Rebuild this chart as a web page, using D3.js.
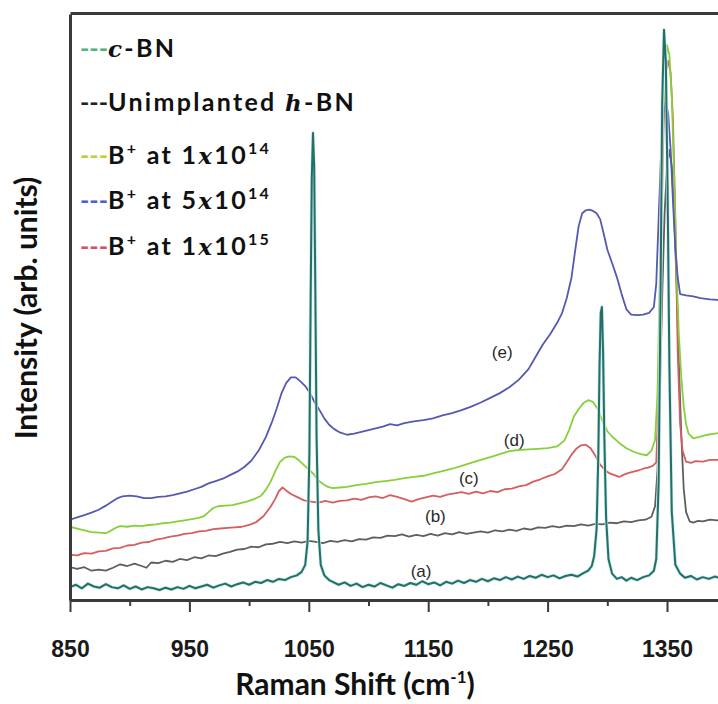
<!DOCTYPE html>
<html><head><meta charset="utf-8">
<script src="https://cdn.jsdelivr.net/npm/d3@7"></script>
<style>body{margin:0;background:#fff}</style>
</head><body><svg id="c" width="718" height="704"></svg>
<script>
const majorTicks=[850,950,1050,1150,1250,1350];
const minorTicks=[900,1000,1100,1200,1300,1400];
const xTitle="Raman Shift (cm";
const yTitle="Intensity (arb. units)";

// (a) c-BN
const seriesA=[[850,2.2],[855,2.6],[860,2.0],[865,2.8],[870,2.3],[875,2.1],[880,2.7],[885,2.2],[890,2.0],[895,2.5],[900,1.9],[905,2.3],[910,1.8],[915,2.2],[920,2.0],[925,1.7],[930,2.1],[935,1.8],[940,2.2],[945,1.9],[950,2.4],[955,2.0],[960,2.3],[965,2.6],[970,2.1],[975,2.5],[980,2.8],[985,2.3],[990,2.7],[995,3.0],[1000,2.6],[1005,3.1],[1010,2.9],[1015,3.4],[1020,3.1],[1025,3.6],[1030,3.4],[1035,3.9],[1040,4.2],[1044,4.8],[1047,6.0],[1049,10],[1050.5,25],[1051.5,50],[1052.5,72],[1053.5,79.7],[1054.5,74],[1055.5,52],[1056.5,28],[1058,12],[1060,6],[1063,4.2],[1067,3.4],[1070,3.1],[1075,2.6],[1080,3.0],[1085,2.4],[1090,2.8],[1095,2.2],[1100,2.6],[1105,2.3],[1110,2.9],[1115,2.5],[1120,2.1],[1125,2.7],[1130,2.4],[1135,2.9],[1140,2.6],[1145,3.2],[1150,2.7],[1155,3.0],[1160,2.5],[1165,3.1],[1170,2.8],[1175,3.3],[1180,2.9],[1185,3.4],[1190,3.1],[1195,3.6],[1200,3.2],[1205,3.7],[1210,3.4],[1215,3.9],[1220,3.5],[1225,4.0],[1230,3.6],[1235,4.1],[1240,3.8],[1245,4.3],[1250,3.9],[1255,4.2],[1260,3.7],[1265,4.1],[1270,4.3],[1275,4.0],[1280,4.6],[1284,5.0],[1287,5.8],[1289,7.5],[1291,12],[1292.5,25],[1293.5,40],[1294.5,49],[1295.5,50],[1296.5,42],[1297.5,28],[1299,14],[1301,7],[1304,4.5],[1308,3.6],[1312,3.9],[1316,3.3],[1320,3.8],[1325,3.4],[1330,3.9],[1335,4.2],[1339,5.0],[1341,7],[1343,20],[1344.5,50],[1346,85],[1347.5,97.3],[1349,92],[1350.5,70],[1352,40],[1354,15],[1357,6],[1361,4.5],[1365,3.8],[1370,4.1],[1375,3.5],[1380,3.9],[1385,3.6],[1390,4.0],[1395,3.7],[1400,3.9]];

// (b) Unimplanted h-BN
const seriesB=[[850,5.6],[856,5.3],[862,5.6],[868,5.0],[874,5.2],[880,5.0],[886,5.5],[892,6.1],[898,5.8],[904,6.2],[910,5.8],[914,5.5],[918,6.4],[924,6.3],[930,6.7],[936,6.5],[942,7.0],[948,6.8],[954,7.3],[960,7.1],[966,7.6],[972,7.5],[978,7.9],[984,8.2],[990,8.6],[996,8.7],[1002,9.1],[1008,9.0],[1014,9.5],[1020,9.6],[1026,9.9],[1032,9.7],[1038,10.0],[1044,9.8],[1050,10.1],[1056,9.9],[1062,9.7],[1068,10.1],[1074,9.9],[1080,10.2],[1086,10.0],[1092,10.4],[1098,10.3],[1104,10.7],[1110,10.6],[1116,11.0],[1122,10.9],[1128,11.2],[1134,10.8],[1140,11.1],[1146,10.9],[1152,11.3],[1158,11.0],[1164,11.4],[1170,11.2],[1176,11.6],[1182,11.3],[1188,11.5],[1194,11.7],[1200,11.5],[1206,11.9],[1212,11.7],[1218,12.0],[1224,11.8],[1230,12.2],[1236,12.0],[1242,12.4],[1248,12.3],[1254,12.6],[1260,12.4],[1266,12.7],[1272,12.6],[1278,12.9],[1284,12.7],[1290,13.0],[1296,12.9],[1302,13.2],[1308,13.1],[1314,13.4],[1320,13.3],[1326,13.6],[1332,13.7],[1337,14.2],[1340,16],[1342,22],[1344,35],[1346,52],[1348,66],[1350,74],[1352,76.8],[1354,74],[1356,66],[1358,54],[1360,40],[1362,28],[1364,19],[1366,15],[1369,13.4],[1372,13.2],[1376,13.5],[1380,13.4],[1386,13.7],[1392,13.6],[1400,13.8]];

// (c) B+ at 1x10^15
const seriesC=[[850,7.7],[856,7.6],[862,8.0],[868,7.9],[874,8.3],[880,8.4],[886,8.8],[892,8.9],[898,9.3],[904,9.4],[910,9.8],[916,9.9],[922,10.3],[928,10.5],[934,10.8],[940,11.0],[946,11.3],[952,11.4],[958,11.7],[964,11.8],[970,12.1],[976,12.2],[982,12.3],[988,12.4],[994,12.5],[1000,12.8],[1006,13.3],[1012,14.3],[1018,15.9],[1022,17.3],[1025,18.6],[1028,19.2],[1031,18.7],[1035,18.1],[1040,17.6],[1046,17.0],[1052,16.8],[1058,16.6],[1064,16.9],[1070,16.6],[1076,16.9],[1082,17.0],[1088,17.3],[1094,17.1],[1100,17.5],[1106,17.7],[1112,17.4],[1118,17.9],[1124,17.6],[1130,17.2],[1136,16.8],[1142,17.2],[1148,17.5],[1154,17.8],[1160,17.6],[1166,18.0],[1172,18.2],[1178,18.4],[1184,18.1],[1190,18.5],[1196,18.2],[1202,18.6],[1208,18.4],[1214,18.9],[1220,19.0],[1226,19.4],[1232,19.6],[1238,20.2],[1244,20.6],[1250,21.1],[1256,21.5],[1262,22.3],[1266,23.5],[1270,24.8],[1274,25.8],[1278,26.4],[1282,26.5],[1286,25.9],[1290,24.6],[1294,23.1],[1298,22.2],[1302,21.6],[1306,21.3],[1310,21.0],[1314,21.4],[1318,21.7],[1322,21.9],[1326,22.1],[1330,22.4],[1334,22.6],[1338,22.9],[1341,23.5],[1343,35],[1345,60],[1347,80],[1349,90],[1351,92],[1353,90],[1355,82],[1357,65],[1359,42],[1361,30],[1363,25.5],[1366,23.6],[1370,23.4],[1374,23.7],[1380,23.6],[1386,23.9],[1392,23.9],[1400,24.1]];

// (d) B+ at 1x10^14
const seriesD=[[850,12.5],[856,12.2],[862,11.9],[868,11.6],[874,11.5],[880,11.4],[884,11.8],[888,12.3],[892,12.6],[898,12.5],[904,12.7],[910,12.6],[916,12.8],[922,12.9],[928,13.1],[934,13.2],[940,13.4],[946,13.6],[952,13.8],[958,14.0],[962,14.3],[966,15.0],[970,15.7],[974,16.0],[980,16.1],[986,16.2],[992,16.5],[998,16.8],[1004,17.2],[1010,17.8],[1014,18.8],[1018,20.2],[1022,22.0],[1026,23.6],[1030,24.3],[1034,24.5],[1038,24.4],[1042,23.8],[1046,23.0],[1050,22.3],[1054,21.5],[1058,20.4],[1062,19.8],[1066,19.3],[1070,19.1],[1076,19.2],[1082,19.3],[1090,19.6],[1098,19.8],[1106,20.1],[1114,20.3],[1122,20.5],[1130,20.8],[1138,21.0],[1146,21.2],[1154,21.6],[1162,22.0],[1170,22.4],[1178,22.9],[1186,23.4],[1194,23.9],[1202,24.4],[1210,24.9],[1218,25.4],[1226,25.6],[1234,25.7],[1242,25.8],[1250,25.9],[1258,26.2],[1264,27.2],[1268,29.0],[1272,31.3],[1276,32.6],[1280,33.6],[1284,34.1],[1288,33.8],[1292,32.6],[1296,30.5],[1300,28.8],[1304,27.9],[1310,26.8],[1316,25.9],[1322,25.3],[1328,24.9],[1333,24.7],[1337,25.5],[1340,27.3],[1342,35],[1344,55],[1346,78],[1348,90],[1350,94.7],[1352,93],[1354,86],[1356,72],[1358,56],[1360,45],[1362,38],[1364,33],[1366,30],[1368,28.4],[1372,27.6],[1378,27.9],[1384,28.2],[1390,28.4],[1400,28.7]];

// (e) B+ at 5x10^14
const seriesE=[[850,13.7],[856,14.1],[862,14.5],[868,14.9],[874,15.4],[880,16.1],[886,16.9],[890,17.4],[894,17.7],[900,17.8],[906,17.7],[912,17.4],[918,17.4],[924,17.6],[930,17.7],[936,17.9],[942,18.2],[948,18.5],[954,18.9],[960,19.3],[966,19.9],[972,20.3],[978,20.7],[984,21.3],[990,21.9],[996,22.7],[1002,23.8],[1008,25.5],[1014,27.8],[1019,30.3],[1023,32.6],[1027,35.2],[1031,37.0],[1035,38.0],[1039,38.0],[1043,37.3],[1047,36.5],[1051,35.3],[1055,33.7],[1059,32.4],[1063,31.0],[1067,29.9],[1071,29.2],[1076,28.6],[1082,28.2],[1088,28.4],[1094,28.7],[1100,29.0],[1106,29.3],[1112,29.6],[1118,30.0],[1124,29.8],[1130,30.2],[1138,30.5],[1146,30.7],[1154,31.0],[1162,31.5],[1170,31.9],[1178,32.4],[1186,33.0],[1194,33.7],[1202,34.5],[1210,35.3],[1218,36.3],[1226,37.6],[1234,39.4],[1240,41.5],[1246,43.6],[1252,45.3],[1258,47.3],[1262,48.9],[1266,51.5],[1270,55.0],[1273,59.5],[1276,63.8],[1279,66.0],[1282,66.5],[1285,66.6],[1288,66.4],[1291,66.0],[1294,65.0],[1297,62.5],[1300,59.8],[1304,57.5],[1308,55.1],[1312,52.2],[1316,49.6],[1320,48.7],[1325,48.6],[1330,48.7],[1335,49.0],[1339,50.0],[1341,54],[1343,65],[1345,76],[1347,83],[1349,85],[1351,83],[1353,77],[1355,68],[1357,60],[1359,55],[1361,52.2],[1366,52.0],[1372,51.8],[1378,51.5],[1386,51.3],[1392,51.2],[1400,51.0]];

const curveLabels=["(a)","(b)","(c)","(d)","(e)"];
const labelPos=[[1144,4.9],[1156,14.3],[1184,20.8],[1222,27.3],[1212,42.3]];

const svg=d3.select('#c');
svg.append('rect').attr('width',718).attr('height',704).attr('fill','#fff');
const x=d3.scaleLinear().domain([850,1400]).range([70,726.7]);
const y=d3.scaleLinear().domain([0,100]).range([600,14]);

svg.append('clipPath').attr('id','clip').append('rect').attr('x',71).attr('y',14).attr('width',647).attr('height',585);
const g=svg.append('g').attr('clip-path','url(#clip)');
const line=d3.line().x(d=>x(d[0])).y(d=>y(d[1])).curve(d3.curveLinear);

const draw=(data,color,w)=>g.append('path').datum(data).attr('d',line).attr('fill','none').attr('stroke',color).attr('stroke-width',w).attr('stroke-linejoin','round');
draw(seriesB,'#5e5e5e',1.8);
draw(seriesC,'#d45e60',1.8);
draw(seriesD,'#86d03c',1.8);
draw(seriesE,'#5659b2',1.8);
draw(seriesA,'#cdeceb',3.5);
draw(seriesA,'#246f68',2);

// axes
const axStyle=sel=>{sel.select('.domain').attr('stroke','#3a3a3a').attr('stroke-width',3);};
const bottomAxis=svg.append('g').attr('transform','translate(0,600)')
  .call(d3.axisBottom(x).tickValues(majorTicks).tickSize(12).tickSizeOuter(0).tickPadding(29).tickFormat(d3.format('d')));
axStyle(bottomAxis);
bottomAxis.selectAll('.tick line').attr('stroke','#3a3a3a').attr('stroke-width',2);
bottomAxis.selectAll('.tick text').attr('font-family','Liberation Sans, Arial, sans-serif').attr('font-weight','bold').attr('font-size',23).attr('fill','#1a1a1a');
const minorAxis=svg.append('g').attr('transform','translate(0,600)')
  .call(d3.axisBottom(x).tickValues(minorTicks).tickSize(6).tickSizeOuter(0).tickFormat(''));
minorAxis.select('.domain').remove();
minorAxis.selectAll('.tick line').attr('stroke','#3a3a3a').attr('stroke-width',2);

const leftAxis=svg.append('g').attr('transform','translate(70,0)').call(d3.axisLeft(y).tickValues([]).tickSizeOuter(0));
axStyle(leftAxis);
const topAxis=svg.append('g').attr('transform','translate(0,13)').call(d3.axisTop(x).tickValues([]).tickSizeOuter(0));
axStyle(topAxis);

// titles
const xt=svg.append('text').attr('x',355).attr('y',695).attr('text-anchor','middle')
  .attr('font-family','Lato, sans-serif').attr('font-weight','bold').attr('font-size',30).attr('fill','#111');
xt.append('tspan').text(xTitle);
xt.append('tspan').attr('font-size',17).attr('dy',-12).text('-1');
xt.append('tspan').attr('dy',12).text(')');
svg.append('text').attr('transform','translate(37,308) rotate(-90)').attr('text-anchor','middle')
  .attr('font-family','Lato, sans-serif').attr('font-weight','bold').attr('font-size',30).attr('fill','#111').text(yTitle);

// curve labels
svg.selectAll('.clab').data(curveLabels).enter().append('text')
  .attr('x',(d,i)=>x(labelPos[i][0])).attr('y',(d,i)=>y(labelPos[i][1]))
  .attr('text-anchor','middle').attr('dominant-baseline','central')
  .attr('font-family','Liberation Sans, Arial, sans-serif').attr('font-size',17).attr('fill','#2a2a2a').text(d=>d);

// legend
const legendColors=['#4db380','#222','#b5d435','#4f5fd0','#d4506c'];
const legendY=[57,111,164,209,255];
const lg=svg.append('g').attr('font-family','Lato, sans-serif').attr('font-weight','bold').attr('font-size',25).attr('letter-spacing',2.3).attr('fill','#111');
const itFam='DejaVu Serif, serif';
function entry(i,parts){
  const t=lg.append('text').attr('x',80).attr('y',legendY[i]);
  t.append('tspan').attr('fill',legendColors[i]).attr('letter-spacing',0).text('---');
  parts.forEach(p=>{
    const s=t.append('tspan').text(p.t);
    if(p.i) s.attr('font-family',itFam).attr('font-style','italic').attr('font-size',23);
    if(p.sup) s.attr('font-size',16).attr('dy',-10);
    if(p.down) s.attr('dy',10);
  });
}
entry(0,[{t:'c',i:1},{t:'-BN'}]);
entry(1,[{t:'Unimplanted '},{t:'h',i:1},{t:'-BN'}]);
const doses=[['1','14'],['5','14'],['1','15']];
doses.forEach((d,k)=>entry(k+2,[{t:'B'},{t:'+',sup:1},{t:' at '+d[0],down:1},{t:'x',i:1},{t:'10'},{t:d[1],sup:1}]));
</script></body></html>
